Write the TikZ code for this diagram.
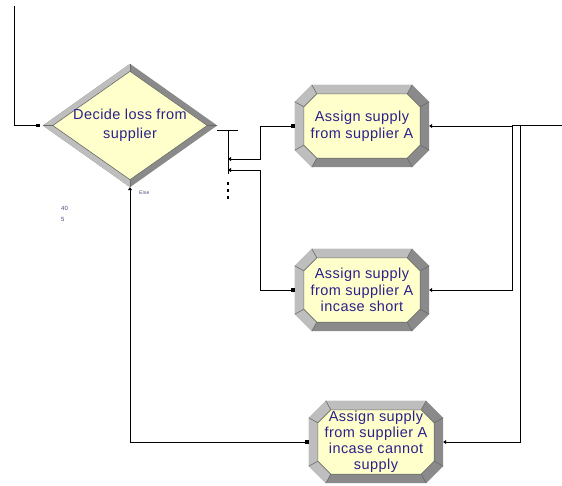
\documentclass[tikz,border=0pt]{standalone}
\usepackage{fontspec}
\newfontfamily\arenafont{Liberation Sans}[LetterSpace=3]
\usetikzlibrary{arrows.meta,calc,positioning}

\definecolor{modfill}{RGB}{255,255,204}
\definecolor{bevlight}{RGB}{190,190,190}
\definecolor{bevdark}{RGB}{138,138,138}
\definecolor{bevseam}{RGB}{105,105,105}
\definecolor{modtext}{RGB}{44,32,140}
\definecolor{tinytext}{RGB}{70,70,120}

\pgfdeclarelayer{background}
\pgfsetlayers{background,main}

\tikzset{
  assignbox/.style={rectangle, inner sep=0pt, minimum width=134, minimum height=82,
    align=center, text=modtext, font=\arenafont\fontsize{14.5}{16.5}\selectfont},
  decidebox/.style={rectangle, inner sep=0pt, minimum width=174, minimum height=123,
    align=center, text=modtext, font=\arenafont\fontsize{14.5}{19}\selectfont},
  conn/.style={draw=black, line width=1pt},
  feed/.style={conn, arrows={-Square[length=3.5pt,width=3.5pt]}, shorten >=3pt},
  flow/.style={conn, arrows={Triangle[length=3pt,width=4pt]-Square[length=3.5pt,width=3.5pt]}},
  outflow/.style={conn, arrows={Triangle[length=3pt,width=4pt]-}},
  tiny/.style={inner sep=0pt, text=tinytext, font=\arenafont\fontsize{5}{6}\selectfont},
}

% octagon with bevelled border round an assign node
\newcommand{\octobevel}[1]{%
  \begin{pgfonlayer}{background}
    \coordinate (o1) at ($(#1.north west)+(17,0)$);
    \coordinate (o2) at ($(#1.north east)+(-17,0)$);
    \coordinate (o3) at ($(#1.north east)+(0,17)$);
    \coordinate (o4) at ($(#1.south east)+(0,-17)$);
    \coordinate (o5) at ($(#1.south east)+(-17,0)$);
    \coordinate (o6) at ($(#1.south west)+(17,0)$);
    \coordinate (o7) at ($(#1.south west)+(0,-17)$);
    \coordinate (o8) at ($(#1.north west)+(0,17)$);
    \coordinate (i1) at ($(#1.north west)+(22,9)$);
    \coordinate (i2) at ($(#1.north east)+(-22,9)$);
    \coordinate (i3) at ($(#1.north east)+(-9,22)$);
    \coordinate (i4) at ($(#1.south east)+(-9,-22)$);
    \coordinate (i5) at ($(#1.south east)+(-22,-9)$);
    \coordinate (i6) at ($(#1.south west)+(22,-9)$);
    \coordinate (i7) at ($(#1.south west)+(9,-22)$);
    \coordinate (i8) at ($(#1.north west)+(9,22)$);
    \fill[bevdark] (o1) -- (o2) -- (o3) -- (o4) -- (o5) -- (o6) -- (o7) -- (o8) -- cycle;
    \fill[bevlight] (o6) -- (o7) -- (o8) -- (o1) -- (o2) -- (i2) -- (i1) -- (i8) -- (i7) -- (i6) -- cycle;
    \foreach \k in {1,...,8} {
      \draw[bevseam,line width=0.6pt] (o\k) -- (i\k);
    }
    \filldraw[fill=modfill,draw=bevseam,line width=0.6pt]
      (i1) -- (i2) -- (i3) -- (i4) -- (i5) -- (i6) -- (i7) -- (i8) -- cycle;
  \end{pgfonlayer}}

% diamond with bevelled border round a decide node
\newcommand{\kitebevel}[1]{%
  \begin{pgfonlayer}{background}
    \coordinate (jw) at ($(#1.west)+(10,0)$);
    \coordinate (jn) at ($(#1.north)+(0,7.5)$);
    \coordinate (je) at ($(#1.east)+(-10,0)$);
    \coordinate (js) at ($(#1.south)+(0,-7.5)$);
    \fill[bevdark] (#1.west) -- (#1.north) -- (#1.east) -- (#1.south) -- cycle;
    \fill[bevlight] (#1.north) -- (#1.west) -- (#1.south) -- (js) -- (jw) -- (jn) -- cycle;
    \draw[bevseam,line width=0.6pt] (#1.west) -- (jw) (#1.north) -- (jn)
      (#1.east) -- (je) (#1.south) -- (js);
    \filldraw[fill=modfill,draw=bevseam,line width=0.6pt] (jw) -- (jn) -- (je) -- (js) -- cycle;
  \end{pgfonlayer}}

\begin{document}
\begin{tikzpicture}[x=1pt,y=-1pt]
\useasboundingbox (0,0) rectangle (562,485);

\node[decidebox] (decLoss) at (130,125.5) {Decide loss from\\supplier};
\node[assignbox] (asgnA) at (362,126) {Assign supply\\from supplier A};
\node[assignbox] (asgnShort) at (362,290) {Assign supply\\from supplier A\\incase short};
\node[assignbox,font=\arenafont\fontsize{14.5}{16}\selectfont] (asgnCannot) at (376,442)
  {Assign supply\\from supplier A\\incase cannot\\supply};
\kitebevel{decLoss}
\octobevel{asgnA}
\octobevel{asgnShort}
\octobevel{asgnCannot}

\node[tiny,anchor=west] (elseTag) at (139,193) {Else};
\node[tiny,anchor=north west,align=left,font=\arenafont\fontsize{6}{11}\selectfont] (qtyTag) at (61,206) {40\\5};

% exit points of the decide
\draw[conn] (217,130) -- (238,130);
\draw[conn] (228,130) -- (228,174);
\foreach \y in {182,189,196} {
  \fill (227.3,\y) rectangle ++(1.4,2.6);
}
\coordinate (exitA) at (228,159);
\coordinate (exitB) at (228,170);

\coordinate (feedIn) at (14,6);
\coordinate (jogA) at (512,125);
\coordinate (jogB) at (520,125);
\coordinate (outR) at (562,125);

\draw[feed] (feedIn) |- (decLoss.west);
\draw[flow] (exitA) -| ([xshift=-34pt]asgnA.west) -- (asgnA.west);
\draw[flow] (exitB) -| ([xshift=-34pt]asgnShort.west) -- (asgnShort.west);
\draw[flow] (decLoss.south) |- (asgnCannot.west);

\draw[outflow] (asgnA.east) -| (jogA) -- (outR);
\draw[outflow] (asgnShort.east) -| (jogA);
\draw[outflow] (asgnCannot.east) -| (jogB) -- (outR);

\end{tikzpicture}
\end{document}
